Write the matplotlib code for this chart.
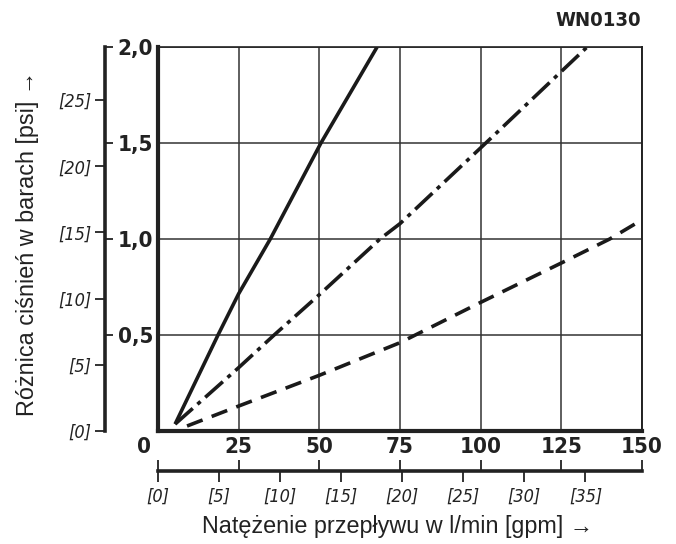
import matplotlib
matplotlib.use("Agg")
import matplotlib.pyplot as plt
import matplotlib.transforms as mtransforms
from matplotlib.font_manager import FontProperties

plt.rcParams['lines.scale_dashes'] = False

# Krzywe spadku ciśnienia: przepływ [l/min] -> różnica ciśnień [bar]
flow_solid = [5.3, 18.6, 25.0, 34.8, 50.5, 67.9]
dp_solid = [0.036, 0.50, 0.715, 1.00, 1.50, 2.00]

flow_dashdot = [5.3, 25.0, 36.0, 50.0, 68.8, 75.0, 101.6, 133.0]
dp_dashdot = [0.036, 0.33, 0.50, 0.71, 1.00, 1.08, 1.50, 2.00]

flow_dashed = [9.0, 25.0, 50.0, 75.0, 100.0, 125.0, 140.0, 150.0]
dp_dashed = [0.026, 0.13, 0.29, 0.46, 0.67, 0.875, 1.00, 1.10]

lmin_ticks = [0, 25, 50, 75, 100, 125, 150]
bar_ticks = [0.5, 1.0, 1.5, 2.0]
bar_labels = ["0,5", "1,0", "1,5", "2,0"]
psi_ticks = [0, 5, 10, 15, 20, 25]
gpm_ticks = [0, 5, 10, 15, 20, 25, 30, 35]

PSI_PER_BAR = 14.5038
LMIN_PER_GPM = 3.785411784

W, H = 676, 544
ink = '#222222'
bold_fp = FontProperties(family='DejaVu Sans', stretch='condensed', weight='bold', size=16)
ital_fp = FontProperties(family='DejaVu Sans', stretch='condensed', style='italic', size=13)
label_fp = FontProperties(family='Liberation Sans', size=16.8)

fig = plt.figure(figsize=(W / 100, H / 100), dpi=100)

left, right, top, bottom = 158, 642, 47, 431
pos = [left / W, 1 - bottom / H, (right - left) / W, (bottom - top) / H]

ax = fig.add_axes(pos)
ax.set_xlim(0, 150)
ax.set_ylim(0, 2)
ax.set_xticks(lmin_ticks)
ax.set_xticklabels([str(t) for t in lmin_ticks], fontproperties=bold_fp, color=ink)
ax.set_yticks([0, 0.5, 1.0, 1.5, 2.0])
ax.set_yticklabels([])
ax.tick_params(axis='both', length=0, pad=4)
ax.grid(True, color='#333333', linewidth=1.1)
for side, lw in [('left', 3.0), ('bottom', 3.0), ('top', 1.2), ('right', 1.4)]:
    ax.spines[side].set_linewidth(lw)
    ax.spines[side].set_color(ink)

# etykieta "0" przesunięta w lewo od osi
zero_lbl = ax.get_xticklabels()[0]
zero_lbl.set_transform(zero_lbl.get_transform() +
                       mtransforms.ScaledTranslation(-0.14, 0, fig.dpi_scale_trans))

ln = dict(color='#1a1a1a', linewidth=2.6, dash_capstyle='butt', solid_capstyle='butt')
ax.plot(flow_solid, dp_solid, **ln)
ax.plot(flow_dashdot, dp_dashdot, dashes=(17, 4.5, 3, 4.5), **ln)
ax.plot(flow_dashed, dp_dashed, dashes=(12, 7), **ln)

# oś psi z lewej strony
ax_p = fig.add_axes([105 / W, pos[1], 0.0005, pos[3]])
ax_p.set_ylim(0, 2 * PSI_PER_BAR)
ax_p.set_yticks(psi_ticks)
ax_p.set_yticklabels([f"[{t}]" for t in psi_ticks], fontproperties=ital_fp, color=ink)
ax_p.tick_params(axis='y', length=7, width=1.3, pad=3, colors=ink)
ax_p.set_xticks([])
for side in ['top', 'right', 'bottom']:
    ax_p.spines[side].set_visible(False)
ax_p.spines['left'].set_linewidth(2.6)
ax_p.spines['left'].set_color(ink)
ax_p.patch.set_visible(False)

# oś w barach (etykiety pogrubione)
ax_b = fig.add_axes([105 / W, pos[1], 0.0005, pos[3]])
ax_b.set_ylim(0, 2)
ax_b.yaxis.tick_right()
ax_b.set_yticks(bar_ticks)
ax_b.set_yticklabels(bar_labels, fontproperties=bold_fp, color=ink)
ax_b.tick_params(axis='y', length=6, width=1.3, pad=3, colors=ink)
ax_b.set_xticks([])
for s in ax_b.spines.values():
    s.set_visible(False)
ax_b.patch.set_visible(False)

# oś gpm na dole
gpos = [pos[0], 1 - 471 / H, pos[2], 0.0005]
ax_g = fig.add_axes(gpos)
ax_g.set_xlim(0, 150 / LMIN_PER_GPM)
ax_g.set_xticks(gpm_ticks)
ax_g.set_xticklabels([f"[{t}]" for t in gpm_ticks], fontproperties=ital_fp, color=ink)
ax_g.tick_params(axis='x', length=8, width=1.3, pad=4, colors=ink)
ax_g.set_yticks([])
for side in ['top', 'left', 'right']:
    ax_g.spines[side].set_visible(False)
ax_g.spines['bottom'].set_linewidth(2.6)
ax_g.spines['bottom'].set_color(ink)
ax_g.patch.set_visible(False)

ax_l = fig.add_axes(gpos)
ax_l.set_xlim(0, 150)
ax_l.xaxis.tick_top()
ax_l.set_xticks(lmin_ticks)
ax_l.set_xticklabels([])
ax_l.tick_params(axis='x', length=8, width=1.3, colors=ink)
ax_l.set_yticks([])
for s in ax_l.spines.values():
    s.set_visible(False)
ax_l.patch.set_visible(False)

fig.text(398 / W, 1 - 527 / H, "Natężenie przepływu w l/min [gpm] →",
         ha='center', va='center', fontproperties=label_fp, color=ink)
fig.text(28 / W, 1 - 243 / H, "Różnica ciśnień w barach [psi] →",
         ha='center', va='center', rotation=90, fontproperties=label_fp, color=ink)
fig.text(641 / W, 1 - 20 / H, "WN0130", ha='right', va='center',
         fontproperties=FontProperties(family='DejaVu Sans', stretch='condensed',
                                       weight='bold', size=14.5), color=ink)

fig.savefig("out.png", dpi=100, facecolor='white')
